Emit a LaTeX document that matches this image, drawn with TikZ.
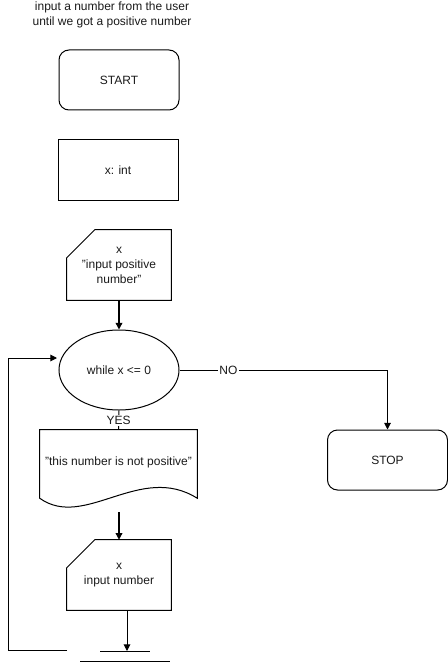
\documentclass[tikz,border=0pt]{standalone}
\usepackage{fontspec}
\setmainfont{Liberation Sans}
\usetikzlibrary{arrows.meta,calc,positioning,shapes.geometric}
\definecolor{fcink}{HTML}{000000}
\definecolor{fctext}{HTML}{1A1A1A}

\begin{document}
\begin{tikzpicture}[x=0.75pt,y=-0.75pt,
  font=\fontsize{9}{11.25}\selectfont,text=fctext,
  fcterm/.style={draw=fcink,rounded corners=7.5pt,minimum width=90pt,minimum height=45pt,line width=0.75pt},
  fcbox/.style={draw=fcink,minimum width=90pt,minimum height=45pt,line width=0.75pt},
  fccard/.style={minimum width=78pt,minimum height=52.5pt,inner sep=0pt,align=center},
  fcloop/.style={ellipse,draw=fcink,minimum width=90pt,minimum height=60pt,inner sep=0pt,line width=0.75pt},
  fcedge/.style={draw=fcink,line width=0.75pt},
  fcarrow/.style={fcedge,-{Triangle[length=5pt,width=5pt]}},
  fclabel/.style={fill=white,inner sep=1pt}]
  \path[use as bounding box] (0,0) rectangle (448,663);

  \node[align=center] (title) at (112,15)
    {input a number from the user\\until we got a positive number};

  \node[fcterm] (start) at (119,80) {START};
  \node[fcbox] (decl) at (118,170) {x: int};
  \node[fccard] (ask) at (119,265) {x\\"input positive\\number"};
  \node[fcloop] (cond) at (119,370) {while x <= 0};
  \node[minimum width=117.75pt,minimum height=48pt,inner sep=0pt] (warn) at (118.5,462)
    {"this number is not positive"};
  \node[fccard] (reread) at (119,575) {x\\input number};
  \node[fcterm] (stop) at (387.5,460) {STOP};

  % card outlines with the cut corner
  \foreach \c in {ask,reread}
    {\draw[fcedge] ($(\c.north west)+(28,0)$) -- (\c.north east) -- (\c.south east)
       -- (\c.south west) -- ($(\c.north west)+(0,28)$) -- cycle;}
  % document outline with the wavy foot
  \draw[fcedge] (warn.north west) -- (warn.north east) -- ($(warn.south east)+(0,4)$)
    .. controls ($(warn.south east)+(-57,-32)$) and ($(warn.south west)+(45,36)$) ..
    ($(warn.south west)+(0,4)$) -- cycle;

  % merge bars at the foot of the loop
  \coordinate (mrg) at (127,651);
  \draw[fcedge] (100,651) -- (150,651);
  \draw[fcedge] (80,661) -- (170,661);
  \coordinate (warnfoot) at (119,512);
  \coordinate (loopout) at (67,650);
  \coordinate (loopin) at (57,358);

  \draw[fcarrow,line width=1pt] (ask) -- (cond);
  \draw[fcedge] (cond) -- node[fclabel] {YES} (warn);
  \draw[fcarrow] (cond.east) -- node[fclabel,pos=0.235] {NO} (stop.north |- cond.east) -- (stop.north);
  \draw[fcarrow,line width=1pt] (warnfoot) -- (reread);
  \draw[fcarrow] (reread.south -| mrg) -- (mrg);
  \draw[fcarrow] (loopout) -- (8,650) -- (8,358) -- (loopin);
\end{tikzpicture}
\end{document}
